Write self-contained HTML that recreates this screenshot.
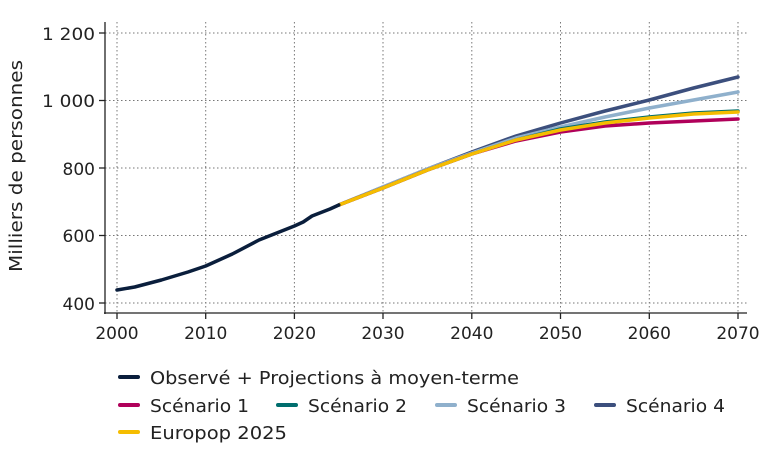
<!DOCTYPE html>
<html><head><meta charset="utf-8"><style>
html,body{margin:0;padding:0;background:#fff;width:767px;height:451px;overflow:hidden}
svg{font-family:"DejaVu Sans","Liberation Sans",sans-serif}
</style></head><body>
<svg width="767" height="451" viewBox="0 0 767 451">
<g stroke="#777" stroke-width="1" stroke-dasharray="1.5,2.5" fill="none">
<line x1="105" x2="747" y1="33" y2="33"/><line x1="105" x2="747" y1="100.5" y2="100.5"/>
<line x1="105" x2="747" y1="168" y2="168"/><line x1="105" x2="747" y1="235.5" y2="235.5"/>
<line x1="105" x2="747" y1="303" y2="303"/>
<line x1="117" x2="117" y1="22" y2="313"/><line x1="205.7" x2="205.7" y1="22" y2="313"/>
<line x1="294.4" x2="294.4" y1="22" y2="313"/><line x1="383" x2="383" y1="22" y2="313"/>
<line x1="471.8" x2="471.8" y1="22" y2="313"/><line x1="560.5" x2="560.5" y1="22" y2="313"/>
<line x1="649.3" x2="649.3" y1="22" y2="313"/><line x1="738" x2="738" y1="22" y2="313"/>
</g>
<g stroke="#222" stroke-width="1.3" fill="none">
<line x1="105" x2="105" y1="22" y2="314"/><line x1="104" x2="747" y1="313" y2="313"/>
<line x1="99" x2="105" y1="33" y2="33"/><line x1="99" x2="105" y1="100.5" y2="100.5"/>
<line x1="99" x2="105" y1="168" y2="168"/><line x1="99" x2="105" y1="235.5" y2="235.5"/>
<line x1="99" x2="105" y1="303" y2="303"/>
<line x1="117" x2="117" y1="313" y2="319"/><line x1="205.7" x2="205.7" y1="313" y2="319"/>
<line x1="294.4" x2="294.4" y1="313" y2="319"/><line x1="383" x2="383" y1="313" y2="319"/>
<line x1="471.8" x2="471.8" y1="313" y2="319"/><line x1="560.5" x2="560.5" y1="313" y2="319"/>
<line x1="649.3" x2="649.3" y1="313" y2="319"/><line x1="738" x2="738" y1="313" y2="319"/>
</g>
<g font-size="17" fill="#222" text-anchor="end">
<text x="95" y="40" textLength="53" lengthAdjust="spacingAndGlyphs">1 200</text>
<text x="95" y="107" textLength="53" lengthAdjust="spacingAndGlyphs">1 000</text>
<text x="95" y="175">800</text>
<text x="95" y="242">600</text><text x="95" y="310">400</text>
</g>
<g font-size="17" fill="#222" text-anchor="middle">
<text x="117" y="339">2000</text><text x="205.7" y="339">2010</text><text x="294.4" y="339">2020</text>
<text x="383" y="339">2030</text><text x="471.8" y="339">2040</text><text x="560.5" y="339">2050</text>
<text x="649.3" y="339">2060</text><text x="738" y="339">2070</text>
</g>
<text transform="translate(22,166) rotate(-90)" font-size="18" fill="#222" text-anchor="middle" textLength="212" lengthAdjust="spacingAndGlyphs">Milliers de personnes</text>
<g fill="none" stroke-width="3.5" stroke-linejoin="round" stroke-linecap="round">
<polyline stroke="#3c4f7d" points="338.8,205 383,187 427.5,169 471.8,152 516,136 560.5,123 605,111 649.3,100 693.6,88 738,77"/>
<polyline stroke="#8fb0cc" points="338.8,205 383,187 427.5,169 471.8,153 516,138 560.5,127 605,117 649.3,108 693.6,100 738,92"/>
<polyline stroke="#006e6e" points="338.8,205 383,188 427.5,170 471.8,154 516,140 560.5,129 605,122 649.3,117 693.6,113 738,111"/>
<polyline stroke="#b0005a" points="338.8,205 383,188 427.5,170 471.8,154 516,141 560.5,132 605,126 649.3,123 693.6,121 738,119"/>
<polyline stroke="#f5bd00" points="338.8,205 383,188 427.5,170 471.8,154 516,140 560.5,130 605,123 649.3,118 693.6,114 738,112"/>
<polyline stroke="#0a1e3c" points="117,290 134.7,287 161.4,280 188,272 205.7,266 232.3,254 259,240 276.7,233 294.4,226 303.2,222 312,216 330,209 338.8,205"/>
</g>
<g stroke-width="4" stroke-linecap="round">
<line x1="120" x2="138" y1="377" y2="377" stroke="#0a1e3c"/>
<line x1="120" x2="138" y1="405" y2="405" stroke="#b0005a"/>
<line x1="278" x2="296" y1="405" y2="405" stroke="#006e6e"/>
<line x1="437" x2="455" y1="405" y2="405" stroke="#8fb0cc"/>
<line x1="596" x2="614" y1="405" y2="405" stroke="#3c4f7d"/>
<line x1="120" x2="138" y1="432" y2="432" stroke="#f5bd00"/>
</g>
<g font-size="18" fill="#222">
<text x="150" y="384" textLength="369" lengthAdjust="spacingAndGlyphs">Observé + Projections à moyen-terme</text>
<text x="150" y="412" textLength="99" lengthAdjust="spacingAndGlyphs">Scénario 1</text>
<text x="308" y="412" textLength="99" lengthAdjust="spacingAndGlyphs">Scénario 2</text>
<text x="467" y="412" textLength="99" lengthAdjust="spacingAndGlyphs">Scénario 3</text>
<text x="626" y="412" textLength="99" lengthAdjust="spacingAndGlyphs">Scénario 4</text>
<text x="150" y="439" textLength="137" lengthAdjust="spacingAndGlyphs">Europop 2025</text>
</g>
</svg>
</body></html>
